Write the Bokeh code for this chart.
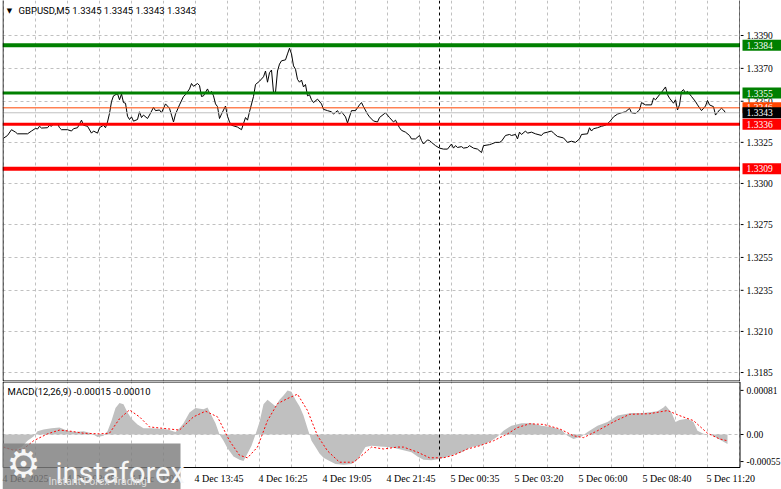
from bokeh.plotting import figure
from bokeh.layouts import column, row
from bokeh.models import Range1d, FixedTicker, Span, Label, Grid, BoxAnnotation
from bokeh.embed import file_html
from bokeh.resources import INLINE

FONT = "Roboto"

symbol_title = "GBPUSD,M5  1.3345 1.3345 1.3343 1.3343"
macd_title = "MACD(12,26,9) -0.00015 -0.00010"

# ---- price (close) vertices, x = bar index (M5 bars) ----
price_idx = [0, 2, 4, 6, 7, 12, 14, 16, 17, 18, 19, 22, 23, 24, 25, 27, 28, 29, 32, 34, 35, 37, 39, 40, 42, 44, 45, 47, 48, 50,
             51, 52, 53, 54, 55, 57, 58, 59, 60, 61, 62, 63, 64, 65, 67, 68, 69, 70, 72, 73, 75, 76, 78, 79, 81, 83, 84, 85, 86, 88,
             90, 91, 93, 94, 95, 97, 98, 99, 100, 102, 103, 104, 105, 106, 107, 108, 109, 111, 112, 113, 114, 117, 119, 121, 122, 123, 125, 126, 128, 130,
             131, 132, 133, 134, 135, 136, 137, 138, 139, 141, 142, 143, 144, 145, 146, 147, 148, 149, 150, 151, 152, 153, 154, 155, 157, 159, 160, 162, 164, 165,
             167, 168, 169, 171, 172, 174, 176, 178, 179, 180, 182, 183, 185, 187, 188, 191, 193, 195, 196, 198, 199, 201, 203, 204, 206, 208, 209, 210, 212, 213,
             214, 216, 218, 220, 222, 224, 225, 226, 227, 229, 230, 232, 233, 235, 237, 239, 240, 243, 244, 246, 248, 249, 251, 253, 254, 256, 257, 258, 259, 261,
             262, 264, 266, 269, 270, 272, 274, 275, 277, 280, 282, 284, 286, 288, 289, 292, 293, 294, 295, 297, 299, 301, 303, 305, 307, 309, 311, 313, 314, 316,
             318, 319, 321, 324, 325, 326, 328, 329, 331, 332, 333, 335, 336, 337, 338, 339, 340, 341, 342, 344, 346, 347, 349, 351, 352, 353, 355, 356, 358, 359,
             360, 361]
price_val = [1.33275, 1.33292, 1.33327, 1.33312, 1.33302, 1.33302, 1.33319, 1.33335, 1.33331, 1.33348, 1.33337, 1.33339, 1.33354, 1.33348, 1.33364, 1.33364, 1.33339, 1.33327, 1.33327, 1.33319, 1.33333, 1.33339, 1.33385, 1.33354, 1.33348, 1.33306, 1.33319, 1.33306, 1.33339, 1.33354,
             1.33339, 1.33374, 1.33426, 1.33498, 1.33533, 1.33546, 1.33509, 1.33544, 1.33492, 1.33488, 1.33409, 1.33389, 1.33405, 1.33379, 1.33389, 1.33436, 1.33401, 1.33416, 1.33395, 1.33416, 1.33463, 1.33443, 1.33447, 1.33430, 1.33484, 1.33457, 1.33416, 1.33374, 1.33422, 1.33478,
             1.33529, 1.33540, 1.33575, 1.33608, 1.33591, 1.33608, 1.33596, 1.33529, 1.33533, 1.33575, 1.33546, 1.33560, 1.33533, 1.33484, 1.33467, 1.33395, 1.33422, 1.33471, 1.33409, 1.33374, 1.33354, 1.33343, 1.33327, 1.33401, 1.33385, 1.33436, 1.33529, 1.33602, 1.33622, 1.33649,
             1.33684, 1.33616, 1.33674, 1.33690, 1.33554, 1.33554, 1.33684, 1.33726, 1.33746, 1.33752, 1.33788, 1.33823, 1.33788, 1.33715, 1.33695, 1.33633, 1.33616, 1.33629, 1.33587, 1.33602, 1.33533, 1.33540, 1.33509, 1.33492, 1.33513, 1.33484, 1.33451, 1.33443, 1.33436, 1.33422,
             1.33443, 1.33422, 1.33436, 1.33405, 1.33368, 1.33443, 1.33443, 1.33478, 1.33492, 1.33467, 1.33422, 1.33405, 1.33380, 1.33374, 1.33401, 1.33430, 1.33401, 1.33374, 1.33385, 1.33339, 1.33323, 1.33312, 1.33292, 1.33271, 1.33271, 1.33292, 1.33261, 1.33240, 1.33265, 1.33261,
             1.33250, 1.33230, 1.33215, 1.33209, 1.33209, 1.33240, 1.33215, 1.33230, 1.33219, 1.33224, 1.33215, 1.33219, 1.33230, 1.33215, 1.33209, 1.33188, 1.33230, 1.33236, 1.33240, 1.33250, 1.33250, 1.33257, 1.33292, 1.33298, 1.33292, 1.33298, 1.33271, 1.33312, 1.33298, 1.33319,
             1.33306, 1.33312, 1.33302, 1.33292, 1.33306, 1.33312, 1.33319, 1.33306, 1.33286, 1.33277, 1.33250, 1.33257, 1.33250, 1.33271, 1.33298, 1.33302, 1.33339, 1.33319, 1.33333, 1.33339, 1.33348, 1.33354, 1.33374, 1.33405, 1.33422, 1.33430, 1.33436, 1.33457, 1.33430, 1.33426,
             1.33447, 1.33492, 1.33478, 1.33478, 1.33519, 1.33509, 1.33540, 1.33554, 1.33587, 1.33540, 1.33519, 1.33488, 1.33509, 1.33447, 1.33478, 1.33560, 1.33571, 1.33550, 1.33560, 1.33529, 1.33498, 1.33478, 1.33443, 1.33471, 1.33505, 1.33478, 1.33467, 1.33416, 1.33447, 1.33457,
             1.33447, 1.33430]

# ---- MACD histogram and signal vertices ----
hist_idx = [0, 5, 9, 12, 15, 17, 20, 24, 28, 32, 36, 40, 44, 47, 50, 52, 54, 56, 58, 60, 62, 64, 67, 70, 74, 78, 82, 86, 88, 90,
            93, 96, 100, 102, 104, 106, 108, 110, 112, 115, 118, 120, 122, 124, 126, 128, 130, 132, 134, 136, 138, 140, 142, 144, 146, 148, 150, 152, 154, 156,
            158, 160, 163, 166, 170, 174, 177, 179, 181, 184, 188, 192, 196, 200, 204, 207, 210, 214, 218, 224, 229, 234, 239, 244, 247, 250, 254, 259, 264, 269,
            274, 279, 282, 285, 289, 292, 297, 302, 307, 314, 320, 327, 330, 331, 334, 336, 338, 342, 345, 347, 350, 354, 358, 362]
hist_val = [-0.00022, -0.00025, -0.00020, -0.00010, -0.00003, 0.00005, 0.00008, 0.00010, 0.00011, 0.00006, 0.00004, 0.00005, 0.00002, -0.00004, -0.00002, 0.00005, 0.00022, 0.00042, 0.00050, 0.00048, 0.00035, 0.00025, 0.00016, 0.00010, 0.00010, 0.00009, 0.00008, 0.00004, 0.00010, 0.00018,
            0.00035, 0.00042, 0.00040, 0.00043, 0.00030, 0.00018, 0.00000, -0.00010, -0.00022, -0.00035, -0.00040, -0.00042, -0.00030, -0.00018, 0.00000, 0.00020, 0.00048, 0.00055, 0.00050, 0.00045, 0.00055, 0.00062, 0.00070, 0.00068, 0.00055, 0.00045, 0.00030, 0.00010, -0.00010, -0.00020,
            -0.00030, -0.00037, -0.00042, -0.00047, -0.00048, -0.00047, -0.00040, -0.00030, -0.00020, -0.00018, -0.00019, -0.00020, -0.00022, -0.00025, -0.00028, -0.00035, -0.00040, -0.00041, -0.00039, -0.00033, -0.00028, -0.00020, -0.00017, -0.00010, -0.00003, 0.00006, 0.00014, 0.00018, 0.00018, 0.00014,
            0.00012, 0.00007, -0.00002, -0.00007, -0.00003, 0.00004, 0.00014, 0.00020, 0.00030, 0.00034, 0.00034, 0.00037, 0.00043, 0.00046, 0.00035, 0.00020, 0.00023, 0.00025, 0.00020, 0.00006, 0.00001, -0.00001, -0.00008, -0.00015]

sig_idx = [0, 5, 10, 15, 22, 28, 34, 40, 48, 53, 58, 63, 68, 73, 82, 88, 95, 101, 107, 113, 118, 122, 127, 132, 137, 142, 147, 152, 157, 162,
           168, 175, 180, 184, 190, 197, 200, 207, 213, 220, 225, 232, 238, 245, 252, 257, 263, 270, 278, 285, 290, 297, 305, 313, 323, 332, 338, 345, 352, 358,
           362]
sig_val = [-0.00020, -0.00025, -0.00023, -0.00010, 0.00001, 0.00007, 0.00005, 0.00002, 0.00001, 0.00002, 0.00025, 0.00039, 0.00028, 0.00012, 0.00009, 0.00007, 0.00028, 0.00037, 0.00028, -0.00010, -0.00033, -0.00037, -0.00020, 0.00022, 0.00049, 0.00057, 0.00064, 0.00038, -0.00002, -0.00026,
           -0.00044, -0.00044, -0.00031, -0.00020, -0.00023, -0.00020, -0.00020, -0.00028, -0.00037, -0.00037, -0.00033, -0.00023, -0.00018, -0.00010, 0.00001, 0.00011, 0.00017, 0.00016, 0.00009, -0.00002, -0.00005, 0.00006, 0.00020, 0.00032, 0.00033, 0.00038, 0.00030, 0.00022, 0.00002, -0.00007,
           -0.00010]

# ---- axes / labels ----
time_tick_idx = [0, 32, 64, 96, 128, 160, 192, 224, 256, 288, 320, 352]
time_tick_labels = ["4 Dec 2025", "4 Dec 08:25", "4 Dec 11:05", "4 Dec 13:45", "4 Dec 16:25", "4 Dec 19:05",
                    "4 Dec 21:45", "5 Dec 00:35", "5 Dec 03:20", "5 Dec 06:00", "5 Dec 08:40", "5 Dec 11:20"]
grid_idx = list(range(0, 369, 16))
price_ticks = [1.3185, 1.3210, 1.3235, 1.3255, 1.3275, 1.3300, 1.3325, 1.3350, 1.3370, 1.3390]
macd_tick_pos = [-0.00043, 0.0, 0.0007]
macd_tick_labels = ["-0.00055", "0.00", "0.00081"]

levels = [1.3384, 1.3355, 1.3336, 1.3309]
level_colors = ["#008000", "#008000", "#FF0000", "#FF0000"]
level_widths = [4, 3, 3, 4]
orange_level = 1.3346
bid_price = 1.3343
day_sep_idx = 218

# ---- geometry (page pixels) ----
PLOT_W = 740      # left border 2 + frame 738 (2 px per bar)
AXIS_W = 41
TOTAL_W = PLOT_W + AXIS_W
MAIN_H = 381
MACD_H = 86
STRIP_H = 22
GRID_COLOR = "#C0C0C0"
X_LAST = 368.5                     # bar index at the right edge of the chart panels
XR = Range1d(-0.5, X_LAST)
PRICE_YR = Range1d(1.317954, 1.341129)
MACD_TOP, MACD_BOT = 0.000841, -0.000524
WM_BOX = "#7E7E7E"
AX_FS = "9.5px"


def macd_at_page(py):
    # MACD value at page row py (MACD panel spans rows 381..467)
    return MACD_TOP + (py - MAIN_H) * (MACD_BOT - MACD_TOP) / MACD_H


def price_at_page(py):
    return PRICE_YR.end + py * (PRICE_YR.start - PRICE_YR.end) / MAIN_H


def bare(fig):
    fig.outline_line_color = None
    fig.xgrid.grid_line_color = None
    fig.ygrid.grid_line_color = None
    fig.background_fill_color = "white"
    fig.border_fill_color = "white"


# ================= main price panel =================
p = figure(width=PLOT_W, height=MAIN_H, x_range=XR, y_range=PRICE_YR,
           output_backend="svg", toolbar_location=None, x_axis_location=None,
           y_axis_location=None, min_border=0, min_border_left=2)
bare(p)
p.add_layout(Grid(dimension=0, ticker=FixedTicker(ticks=grid_idx),
                  grid_line_color=GRID_COLOR, grid_line_dash="3 3", grid_line_width=1))
p.add_layout(Grid(dimension=1, ticker=FixedTicker(ticks=price_ticks),
                  grid_line_color=GRID_COLOR, grid_line_dash="3 3", grid_line_width=1))
p.add_layout(Span(location=day_sep_idx, dimension="height", line_color="black",
                  line_dash="3 3", line_width=1))
for lv, col, lw in zip(levels, level_colors, level_widths):
    p.add_layout(Span(location=lv, dimension="width", line_color=col, line_width=lw))
p.add_layout(Span(location=orange_level, dimension="width", line_color="#FF4500", line_width=1))
p.add_layout(Span(location=bid_price, dimension="width", line_color="#C0C0C0", line_width=1))
p.line(price_idx, price_val, line_color="black", line_width=1)
# panel border (top edge lies above the window)
p.add_layout(BoxAnnotation(left=-0.25, right=X_LAST - 0.25, bottom=price_at_page(MAIN_H - 0.5),
                           top=PRICE_YR.end + 0.001, fill_alpha=0.0, line_color="black",
                           line_alpha=1.0, line_width=1))

p.add_layout(Label(x=7, y=MAIN_H - 10, x_units="screen", y_units="screen", text="\u25BC",
                   text_font="DejaVu Sans", text_font_size="7px", text_color="black",
                   text_baseline="middle", text_align="center"))
p.add_layout(Label(x=16, y=MAIN_H - 10, x_units="screen", y_units="screen", text=symbol_title,
                   text_font=FONT, text_font_size="9.5px", text_color="black",
                   text_baseline="middle", text_align="left"))

# price axis panel (right)
pa = figure(width=AXIS_W, height=MAIN_H, x_range=Range1d(0, AXIS_W), y_range=PRICE_YR,
            output_backend="svg", toolbar_location=None, x_axis_location=None,
            y_axis_location=None, min_border=0)
bare(pa)
n = len(price_ticks)
pa.segment(x0=[0] * n, x1=[3] * n, y0=price_ticks, y1=price_ticks, line_color="black", line_width=1)
pa.text(x=[6] * n, y=price_ticks, text=[f"{t:.4f}" for t in price_ticks], text_font=FONT,
        text_font_size=AX_FS, text_color="black", text_baseline="middle", text_align="left")


def level_box(lv, color):
    pa.rect(x=[2 + (AXIS_W - 2) / 2], y=[lv], width=AXIS_W - 2, height=11,
            width_units="screen", height_units="screen", fill_color=color, line_color=None)
    pa.text(x=[6], y=[lv], text=[f"{lv:.4f}"], text_font=FONT, text_font_size=AX_FS,
            text_color="white", text_baseline="middle", text_align="left")


level_box(orange_level, "#FF4500")
level_box(levels[1], level_colors[1])
level_box(levels[0], level_colors[0])
level_box(bid_price, "#000000")
level_box(levels[2], level_colors[2])
level_box(levels[3], level_colors[3])

# ================= MACD panel + time strip (one canvas) =================
m = figure(width=TOTAL_W, height=MACD_H + STRIP_H,
           x_range=Range1d(-0.5, (TOTAL_W - 3) / 2),
           y_range=Range1d(macd_at_page(MAIN_H + MACD_H + STRIP_H), MACD_TOP),
           output_backend="svg", toolbar_location=None, x_axis_location=None,
           y_axis_location=None, min_border=0, min_border_left=2)
bare(m)
g = len(grid_idx)
m.segment(x0=grid_idx, x1=grid_idx, y0=[MACD_BOT] * g, y1=[MACD_TOP] * g,
          line_color=GRID_COLOR, line_dash="3 3", line_width=1)
m.segment(x0=[-0.5], x1=[X_LAST], y0=[0.0], y1=[0.0], line_color=GRID_COLOR,
          line_dash="3 3", line_width=1)
m.varea(x=hist_idx, y1=[0.0] * len(hist_idx), y2=hist_val, fill_color="#C0C0C0", fill_alpha=1.0)
m.line(sig_idx, sig_val, line_color="#FF0000", line_width=1, line_dash="2 2")
m.segment(x0=[day_sep_idx], x1=[day_sep_idx], y0=[MACD_BOT], y1=[MACD_TOP], line_color="black",
          line_dash="3 3", line_width=1)
# panel border
m.add_layout(BoxAnnotation(left=-0.25, right=X_LAST - 0.25, bottom=MACD_BOT,
                           top=macd_at_page(MAIN_H + 0.5), fill_alpha=0.0,
                           line_color="black", line_alpha=1.0, line_width=1))
# MACD axis (right)
k = len(macd_tick_pos)
m.segment(x0=[X_LAST] * k, x1=[X_LAST + 1.5] * k, y0=macd_tick_pos, y1=macd_tick_pos,
          line_color="black", line_width=1)
m.text(x=[X_LAST + 3] * k, y=macd_tick_pos, text=macd_tick_labels, text_font=FONT,
       text_font_size=AX_FS, text_color="black", text_baseline="middle", text_align="left")
m.add_layout(Label(x=5, y=macd_at_page(391), x_units="screen", text=macd_title,
                   text_font=FONT, text_font_size="9.5px", text_color="black",
                   text_baseline="middle", text_align="left"))
# time labels
m.text(x=time_tick_idx, y=[macd_at_page(478)] * len(time_tick_idx), text=time_tick_labels,
       x_offset=-1, text_font=FONT, text_font_size="10px", text_color="black",
       text_baseline="middle", text_align="left")

# instaforex watermark
m.add_layout(BoxAnnotation(right=88.5, top=macd_at_page(443), fill_color=WM_BOX,
                           fill_alpha=0.82, line_color=None))
m.add_layout(Label(x=26, y=macd_at_page(472), text="instaforex", text_font=FONT,
                   text_font_size="29px", text_color="#F6F6F6", text_baseline="alphabetic",
                   text_align="left"))
m.add_layout(Label(x=10, y=macd_at_page(463), text="\u2699", text_font="DejaVu Sans",
                   text_font_size="38px", text_color="#F6F6F6", text_baseline="middle",
                   text_align="center"))
m.add_layout(Label(x=22.5, y=macd_at_page(481), text="Instant Forex Trading", text_font=FONT,
                   text_font_size="10.5px", text_color="#DCDCDC", text_baseline="middle",
                   text_align="left"))

layout = column(row(p, pa, spacing=0), m, spacing=0)
open("out.html", "w").write(file_html(layout, INLINE))
